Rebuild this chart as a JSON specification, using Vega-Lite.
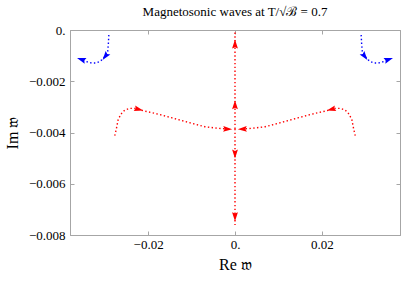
{
  "$schema": "https://vega.github.io/schema/vega-lite/v6.json",
  "width": 330,
  "height": 205,
  "autosize": "none",
  "padding": {"left": 70, "top": 30, "right": 7, "bottom": 49},
  "background": "white",
  "title": {
    "text": "Magnetosonic waves at T/√ℬ = 0.7",
    "font": "Liberation Serif",
    "fontSize": 13,
    "fontWeight": "normal",
    "color": "black",
    "anchor": "middle",
    "offset": 5
  },
  "datasets": {
    "curves": [
      {"series": "blueL", "family": "blue", "i": 0, "x": -0.02906, "y": -0.000195},
      {"series": "blueL", "family": "blue", "i": 1, "x": -0.02912, "y": -0.00039},
      {"series": "blueL", "family": "blue", "i": 2, "x": -0.02918, "y": -0.000585},
      {"series": "blueL", "family": "blue", "i": 3, "x": -0.0293, "y": -0.00082},
      {"series": "blueL", "family": "blue", "i": 4, "x": -0.02976, "y": -0.000976},
      {"series": "blueL", "family": "blue", "i": 5, "x": -0.03045, "y": -0.00113},
      {"series": "blueL", "family": "blue", "i": 6, "x": -0.03114, "y": -0.00123},
      {"series": "blueL", "family": "blue", "i": 7, "x": -0.03206, "y": -0.00129},
      {"series": "blueL", "family": "blue", "i": 8, "x": -0.03298, "y": -0.00129},
      {"series": "blueL", "family": "blue", "i": 9, "x": -0.0339, "y": -0.00125},
      {"series": "blueL", "family": "blue", "i": 10, "x": -0.03505, "y": -0.00119},
      {"series": "blueL", "family": "blue", "i": 11, "x": -0.0354, "y": -0.00115},
      {"series": "blueR", "family": "blue", "i": 0, "x": 0.02906, "y": -0.000195},
      {"series": "blueR", "family": "blue", "i": 1, "x": 0.02912, "y": -0.00039},
      {"series": "blueR", "family": "blue", "i": 2, "x": 0.02918, "y": -0.000585},
      {"series": "blueR", "family": "blue", "i": 3, "x": 0.0293, "y": -0.00082},
      {"series": "blueR", "family": "blue", "i": 4, "x": 0.02976, "y": -0.000976},
      {"series": "blueR", "family": "blue", "i": 5, "x": 0.03045, "y": -0.00113},
      {"series": "blueR", "family": "blue", "i": 6, "x": 0.03114, "y": -0.00123},
      {"series": "blueR", "family": "blue", "i": 7, "x": 0.03206, "y": -0.00129},
      {"series": "blueR", "family": "blue", "i": 8, "x": 0.03298, "y": -0.00129},
      {"series": "blueR", "family": "blue", "i": 9, "x": 0.0339, "y": -0.00125},
      {"series": "blueR", "family": "blue", "i": 10, "x": 0.03505, "y": -0.00119},
      {"series": "blueR", "family": "blue", "i": 11, "x": 0.0354, "y": -0.00115},
      {"series": "redL", "family": "red", "i": 0, "x": -0.02769, "y": -0.004125},
      {"series": "redL", "family": "red", "i": 1, "x": -0.0273, "y": -0.003836},
      {"series": "redL", "family": "red", "i": 2, "x": -0.02693, "y": -0.003512},
      {"series": "redL", "family": "red", "i": 3, "x": -0.02631, "y": -0.00329},
      {"series": "redL", "family": "red", "i": 4, "x": -0.02539, "y": -0.003122},
      {"series": "redL", "family": "red", "i": 5, "x": -0.02424, "y": -0.003056},
      {"series": "redL", "family": "red", "i": 6, "x": -0.02285, "y": -0.003063},
      {"series": "redL", "family": "red", "i": 7, "x": -0.02117, "y": -0.00315},
      {"series": "redL", "family": "red", "i": 8, "x": -0.01848, "y": -0.00325},
      {"series": "redL", "family": "red", "i": 9, "x": -0.01464, "y": -0.003422},
      {"series": "redL", "family": "red", "i": 10, "x": -0.01082, "y": -0.003602},
      {"series": "redL", "family": "red", "i": 11, "x": -0.00697, "y": -0.003774},
      {"series": "redL", "family": "red", "i": 12, "x": -0.00391, "y": -0.003836},
      {"series": "redL", "family": "red", "i": 13, "x": -0.00168, "y": -0.003863},
      {"series": "redR", "family": "red", "i": 0, "x": 0.02769, "y": -0.004125},
      {"series": "redR", "family": "red", "i": 1, "x": 0.0273, "y": -0.003836},
      {"series": "redR", "family": "red", "i": 2, "x": 0.02693, "y": -0.003512},
      {"series": "redR", "family": "red", "i": 3, "x": 0.02631, "y": -0.00329},
      {"series": "redR", "family": "red", "i": 4, "x": 0.02539, "y": -0.003122},
      {"series": "redR", "family": "red", "i": 5, "x": 0.02424, "y": -0.003056},
      {"series": "redR", "family": "red", "i": 6, "x": 0.02285, "y": -0.003063},
      {"series": "redR", "family": "red", "i": 7, "x": 0.02117, "y": -0.00315},
      {"series": "redR", "family": "red", "i": 8, "x": 0.01848, "y": -0.00325},
      {"series": "redR", "family": "red", "i": 9, "x": 0.01464, "y": -0.003422},
      {"series": "redR", "family": "red", "i": 10, "x": 0.01082, "y": -0.003602},
      {"series": "redR", "family": "red", "i": 11, "x": 0.00697, "y": -0.003774},
      {"series": "redR", "family": "red", "i": 12, "x": 0.00391, "y": -0.003836},
      {"series": "redR", "family": "red", "i": 13, "x": 0.00168, "y": -0.003863},
      {"series": "redUp", "family": "red", "i": 0, "x": 0, "y": -0.00386},
      {"series": "redUp", "family": "red", "i": 1, "x": 0, "y": -0.00006},
      {"series": "redDown", "family": "red", "i": 0, "x": 0, "y": -0.00386},
      {"series": "redDown", "family": "red", "i": 1, "x": 0, "y": -0.00761}
    ],
    "arrows": [
      {"family": "blue", "x": -0.02987, "y": -0.00103, "heading": 217},
      {"family": "blue", "x": -0.0354, "y": -0.00115, "heading": 288},
      {"family": "blue", "x": 0.02987, "y": -0.00103, "heading": 143},
      {"family": "blue", "x": 0.0354, "y": -0.00115, "heading": 72},
      {"family": "red", "x": -0.02216, "y": -0.0031, "heading": 105},
      {"family": "red", "x": -0.00168, "y": -0.003863, "heading": 92},
      {"family": "red", "x": 0.02216, "y": -0.0031, "heading": 255},
      {"family": "red", "x": 0.00168, "y": -0.003863, "heading": 268},
      {"family": "red", "x": 0, "y": -0.000546, "heading": 0},
      {"family": "red", "x": 0, "y": -0.002915, "heading": 0},
      {"family": "red", "x": 0, "y": -0.00484, "heading": 180},
      {"family": "red", "x": 0, "y": -0.007286, "heading": 180}
    ]
  },
  "layer": [
    {
      "mark": {"type": "rule", "color": "#b4b4b4", "strokeWidth": 1},
      "encoding": {
        "x": {
          "datum": 0,
          "type": "quantitative",
          "scale": {"domain": [-0.038, 0.038], "nice": false, "zero": false},
          "axis": {
            "orient": "top",
            "values": [-0.02, 0, 0.02],
            "labels": false,
            "title": null
          }
        }
      }
    },
    {
      "data": {"name": "curves"},
      "mark": {"type": "line", "strokeWidth": 1.4, "strokeDash": [1.4, 2.4], "clip": true},
      "encoding": {
        "x": {
          "field": "x",
          "type": "quantitative",
          "scale": {"domain": [-0.038, 0.038], "nice": false, "zero": false},
          "axis": {
            "orient": "bottom",
            "values": [-0.02, 0, 0.02],
            "labelExpr": "datum.value === 0 ? '0.' : datum.label",
            "labelPadding": 7,
            "titlePadding": 5,
            "title": "Re 𝔴"
          }
        },
        "y": {
          "field": "y",
          "type": "quantitative",
          "scale": {"domain": [-0.008, 0], "nice": false, "zero": false},
          "axis": {
            "orient": "left",
            "values": [0, -0.002, -0.004, -0.006, -0.008],
            "labelExpr": "datum.value === 0 ? '0.' : datum.label",
            "labelPadding": 9,
            "titlePadding": 8,
            "title": "Im 𝔴"
          }
        },
        "detail": {"field": "series"},
        "order": {"field": "i", "type": "quantitative"},
        "color": {
          "field": "family",
          "type": "nominal",
          "scale": {"domain": ["blue", "red"], "range": ["#0000ff", "#ff0000"]},
          "legend": null
        }
      }
    },
    {
      "data": {"name": "arrows"},
      "mark": {
        "type": "point",
        "filled": true,
        "opacity": 1,
        "size": 81,
        "shape": "M0,-1L0.65,1L0,0.7L-0.65,1Z",
        "strokeWidth": 0
      },
      "encoding": {
        "x": {"field": "x", "type": "quantitative", "axis": null},
        "y": {
          "field": "y",
          "type": "quantitative",
          "axis": {
            "orient": "right",
            "values": [0, -0.002, -0.004, -0.006, -0.008],
            "labels": false,
            "title": null
          }
        },
        "angle": {"field": "heading", "type": "quantitative", "scale": null},
        "color": {"field": "family", "type": "nominal", "legend": null}
      }
    }
  ],
  "resolve": {"axis": {"x": "independent", "y": "independent"}},
  "config": {
    "view": {"stroke": "#a6a6a6", "strokeWidth": 1},
    "axis": {
      "domainColor": "#a6a6a6",
      "tickColor": "#a6a6a6",
      "tickSize": -4,
      "labelPadding": 8,
      "grid": false,
      "labelFont": "Liberation Serif",
      "labelFontSize": 13,
      "labelColor": "black",
      "titleFont": "Liberation Serif",
      "titleFontSize": 16,
      "titleFontWeight": "normal",
      "titleColor": "black"
    }
  }
}
